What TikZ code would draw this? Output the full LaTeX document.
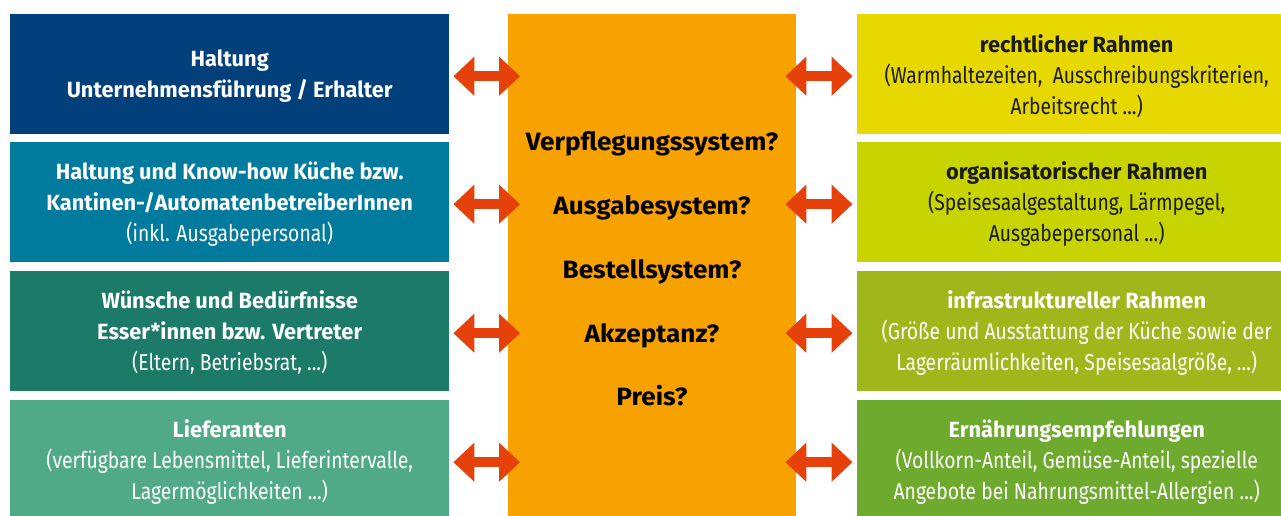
\documentclass[tikz,border=0pt]{standalone}
\usepackage{fontspec}
\setmainfont{Fira Sans}
\newfontfamily\bodyf{Fira Sans}[FakeStretch=0.84]
\newfontfamily\titlef{Fira Sans}[FakeStretch=0.99]
\newfontfamily\centf{Fira Sans}[FakeStretch=1.045]
\usetikzlibrary{arrows.meta}
\definecolor{lA}{HTML}{02407C}
\definecolor{lB}{HTML}{007A9D}
\definecolor{lC}{HTML}{1C7A69}
\definecolor{lD}{HTML}{50AA88}
\definecolor{rA}{HTML}{E6D800}
\definecolor{rB}{HTML}{C8D400}
\definecolor{rC}{HTML}{A0B71B}
\definecolor{rD}{HTML}{6DAA2D}
\definecolor{orng}{HTML}{F7A200}
\definecolor{arrc}{HTML}{E6410A}
\definecolor{dtext}{HTML}{1A1A1A}
\newcommand\ttl[1]{{\titlef\bfseries\fontsize{22}{31}\selectfont #1}}
\newcommand\fst{\rule{0pt}{21pt}}
\begin{document}
\begin{tikzpicture}[x=1pt,y=-1pt,
  box/.style={minimum width=439pt, minimum height=120pt, inner sep=0pt,
    align=center, anchor=north west, text=white,
    font=\bodyf\fontsize{23}{31}\selectfont},
  arr/.style={draw=arrc, line width=10pt,
    {Triangle[length=21pt,width=38pt]}-{Triangle[length=21pt,width=38pt]}},
  ctext/.style={align=center, inner sep=0pt, text=black,
    font=\centf\bfseries\fontsize{25}{63.8}\selectfont}]
\useasboundingbox (0,0) rectangle (1281,516);
\clip (0,0) rectangle (1281,516);
% centre box
\node[fill=orng, minimum width=288pt, minimum height=502pt, inner sep=0pt, anchor=north west] (C) at (508,14) {};
\node[ctext] (Cq) at (652,269) {Verpflegungssystem?\\Ausgabesystem?\\Bestellsystem?\\Akzeptanz?\\Preis?};
% left boxes
\node[box, fill=lA] (L1) at (10,14) {\fst\ttl{Haltung}\\\ttl{Unternehmensführung / Erhalter}};
\node[box, fill=lB] (L2) at (10,142) {\fst\ttl{Haltung und Know-how Küche bzw.}\\\ttl{Kantinen-/AutomatenbetreiberInnen}\\(inkl. Ausgabepersonal)};
\node[box, fill=lC] (L3) at (10,271) {\fst\ttl{Wünsche und Bedürfnisse}\\\ttl{Esser*innen bzw. Vertreter}\\(Eltern, Betriebsrat, ...)};
\node[box, fill=lD] (L4) at (10,400) {\fst\ttl{Lieferanten}\\(verfügbare Lebensmittel, Lieferintervalle,\\Lagermöglichkeiten ...)};
% right boxes
\node[box, fill=rA, text=dtext] (R1) at (857,14) {\fst\ttl{rechtlicher Rahmen}\\(Warmhaltezeiten,\ \ Ausschreibungskriterien,\\Arbeitsrecht ...)};
\node[box, fill=rB, text=dtext] (R2) at (857,142) {\fst\ttl{organisatorischer Rahmen}\\(Speisesaalgestaltung, Lärmpegel,\\Ausgabepersonal ...)};
\node[box, fill=rC] (R3) at (857,271) {\fst\ttl{infrastruktureller Rahmen}\\(Größe und Ausstattung der Küche sowie der\\Lagerräumlichkeiten, Speisesaalgröße, ...)};
\node[box, fill=rD] (R4) at (857,400) {\fst\ttl{Ernährungsempfehlungen}\\(Vollkorn-Anteil, Gemüse-Anteil, spezielle\\Angebote bei Nahrungsmittel-Allergien ...)};
% arrow anchors
\coordinate (Cw) at ([xshift=12pt]C.west);
\coordinate (Ce) at ([xshift=-11pt]C.east);
\foreach \i in {1,2,3,4}{
  \coordinate (a\i) at ([shift={(4,2)}]L\i.east);
  \coordinate (b\i) at ([shift={(-4.5,2)}]R\i.west);
  \draw[arr] (a\i) -- (Cw |- a\i);
  \draw[arr] (Ce |- b\i) -- (b\i);
}
\end{tikzpicture}
\end{document}
